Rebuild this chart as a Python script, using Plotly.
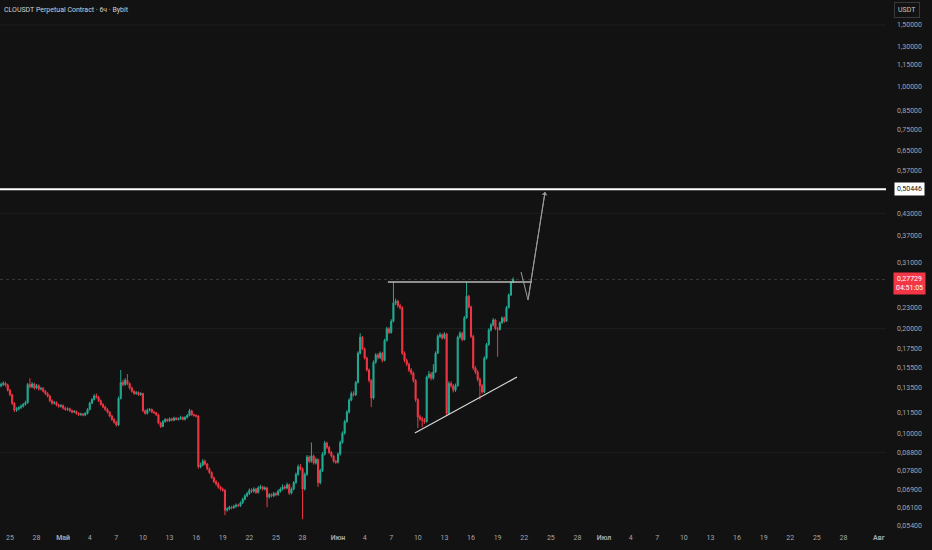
import math
import pandas as pd
import plotly.graph_objects as go

TITLE = "CLOUSDT Perpetual Contract · 6ч · Bybit"
START = "2025-04-24 00:00"

closes = [
    0.1380, 0.1392, 0.1376, 0.1330, 0.1290, 0.1220, 0.1166, 0.1175,
    0.1185, 0.1195, 0.1210, 0.1225, 0.1380, 0.1360, 0.1385, 0.1350,
    0.1370, 0.1340, 0.1345, 0.1320, 0.1300, 0.1280, 0.1240, 0.1220,
    0.1225, 0.1205, 0.1195, 0.1200, 0.1180, 0.1170, 0.1175, 0.1160,
    0.1150, 0.1155, 0.1140, 0.1130, 0.1135, 0.1128, 0.1140, 0.1170,
    0.1220, 0.1250, 0.1280, 0.1270, 0.1240, 0.1210, 0.1190, 0.1170,
    0.1150, 0.1120, 0.1095, 0.1075, 0.1056, 0.1260, 0.1400, 0.1380,
    0.1420, 0.1390, 0.1350, 0.1320, 0.1300, 0.1310, 0.1290, 0.1300,
    0.1160, 0.1140, 0.1165, 0.1170, 0.1150, 0.1145, 0.1130, 0.1070,
    0.1045, 0.1080, 0.1095, 0.1085, 0.1100, 0.1090, 0.1105, 0.1095,
    0.1100, 0.1110, 0.1095, 0.1110, 0.1125, 0.1160, 0.1130, 0.1125,
    0.1120, 0.0800, 0.0810, 0.0830, 0.0815, 0.0790, 0.0770, 0.0745,
    0.0725, 0.0715, 0.0700, 0.0690, 0.0685, 0.0600, 0.0605, 0.0612,
    0.0610, 0.0615, 0.0620, 0.0618, 0.0630, 0.0645, 0.0660, 0.0670,
    0.0685, 0.0680, 0.0690, 0.0675, 0.0695, 0.0700, 0.0690, 0.0695,
    0.0655, 0.0665, 0.0660, 0.0670, 0.0665, 0.0680, 0.0690, 0.0700,
    0.0695, 0.0710, 0.0672, 0.0690, 0.0720, 0.0760, 0.0800, 0.0790,
    0.0690, 0.0760, 0.0853, 0.0830, 0.0860, 0.0820, 0.0840, 0.0720,
    0.0780, 0.0870, 0.0937, 0.0910, 0.0880, 0.0860, 0.0830, 0.0825,
    0.0870, 0.0940, 0.1000, 0.1080, 0.1150, 0.1246, 0.1300, 0.1290,
    0.1400, 0.1700, 0.1890, 0.1750, 0.1645, 0.1520, 0.1420, 0.1262,
    0.1600, 0.1680, 0.1650, 0.1700, 0.1620, 0.1850, 0.2000, 0.1950,
    0.2100, 0.2370, 0.2400, 0.2330, 0.2300, 0.1700, 0.1620, 0.1580,
    0.1520, 0.1490, 0.1420, 0.1250, 0.1113, 0.1100, 0.1090, 0.1080,
    0.1450, 0.1480, 0.1440, 0.1500, 0.1700, 0.1900, 0.1920, 0.1880,
    0.1930, 0.1140, 0.1390, 0.1370, 0.1330, 0.1370, 0.1890, 0.1940,
    0.1860, 0.2150, 0.2480, 0.2310, 0.1900, 0.1540, 0.1500, 0.1430,
    0.1370, 0.1314, 0.1645, 0.1800, 0.1982, 0.2050, 0.2118, 0.2000,
    0.1990, 0.2080, 0.2147, 0.2100, 0.2300, 0.2500, 0.2720, 0.2773,
]

opens = [
    0.1370, 0.1380, 0.1392, 0.1376, 0.1330, 0.1290, 0.1220, 0.1166,
    0.1175, 0.1185, 0.1195, 0.1210, 0.1225, 0.1380, 0.1360, 0.1385,
    0.1350, 0.1370, 0.1340, 0.1345, 0.1320, 0.1300, 0.1280, 0.1240,
    0.1220, 0.1225, 0.1205, 0.1195, 0.1200, 0.1180, 0.1170, 0.1175,
    0.1160, 0.1150, 0.1155, 0.1140, 0.1130, 0.1135, 0.1128, 0.1140,
    0.1170, 0.1220, 0.1250, 0.1280, 0.1270, 0.1240, 0.1210, 0.1190,
    0.1170, 0.1150, 0.1120, 0.1095, 0.1075, 0.1056, 0.1260, 0.1400,
    0.1380, 0.1420, 0.1390, 0.1350, 0.1320, 0.1300, 0.1310, 0.1290,
    0.1300, 0.1160, 0.1140, 0.1165, 0.1170, 0.1150, 0.1145, 0.1130,
    0.1070, 0.1045, 0.1080, 0.1095, 0.1085, 0.1100, 0.1090, 0.1105,
    0.1095, 0.1100, 0.1110, 0.1095, 0.1110, 0.1125, 0.1160, 0.1130,
    0.1125, 0.1120, 0.0800, 0.0810, 0.0830, 0.0815, 0.0790, 0.0770,
    0.0745, 0.0725, 0.0715, 0.0700, 0.0690, 0.0685, 0.0600, 0.0605,
    0.0612, 0.0610, 0.0615, 0.0620, 0.0618, 0.0630, 0.0645, 0.0660,
    0.0670, 0.0685, 0.0680, 0.0690, 0.0675, 0.0695, 0.0700, 0.0690,
    0.0695, 0.0655, 0.0665, 0.0660, 0.0670, 0.0665, 0.0680, 0.0690,
    0.0700, 0.0695, 0.0710, 0.0672, 0.0690, 0.0720, 0.0760, 0.0800,
    0.0790, 0.0690, 0.0760, 0.0853, 0.0830, 0.0860, 0.0820, 0.0840,
    0.0720, 0.0780, 0.0870, 0.0937, 0.0910, 0.0880, 0.0860, 0.0830,
    0.0825, 0.0870, 0.0940, 0.1000, 0.1080, 0.1150, 0.1246, 0.1300,
    0.1290, 0.1400, 0.1700, 0.1890, 0.1750, 0.1645, 0.1520, 0.1420,
    0.1262, 0.1600, 0.1680, 0.1650, 0.1700, 0.1620, 0.1850, 0.2000,
    0.1950, 0.2100, 0.2370, 0.2400, 0.2330, 0.2300, 0.1700, 0.1620,
    0.1580, 0.1520, 0.1490, 0.1420, 0.1250, 0.1113, 0.1100, 0.1090,
    0.1080, 0.1450, 0.1480, 0.1440, 0.1500, 0.1700, 0.1900, 0.1920,
    0.1880, 0.1930, 0.1140, 0.1390, 0.1370, 0.1330, 0.1370, 0.1890,
    0.1940, 0.1860, 0.2150, 0.2480, 0.2310, 0.1900, 0.1540, 0.1500,
    0.1430, 0.1370, 0.1314, 0.1645, 0.1800, 0.1982, 0.2050, 0.2118,
    0.2000, 0.1990, 0.2080, 0.2147, 0.2100, 0.2300, 0.2500, 0.2720,
]

highs = [
    0.1398, 0.1410, 0.1405, 0.1388, 0.1342, 0.1298, 0.1228, 0.1188,
    0.1196, 0.1210, 0.1222, 0.1240, 0.1395, 0.1440, 0.1402, 0.1395,
    0.1385, 0.1382, 0.1360, 0.1358, 0.1332, 0.1312, 0.1290, 0.1252,
    0.1238, 0.1235, 0.1216, 0.1212, 0.1210, 0.1192, 0.1186, 0.1184,
    0.1170, 0.1166, 0.1163, 0.1150, 0.1145, 0.1143, 0.1150, 0.1180,
    0.1232, 0.1262, 0.1295, 0.1300, 0.1280, 0.1250, 0.1220, 0.1200,
    0.1180, 0.1158, 0.1130, 0.1105, 0.1085, 0.1275, 0.1520, 0.1425,
    0.1440, 0.1480, 0.1400, 0.1362, 0.1330, 0.1322, 0.1318, 0.1312,
    0.1308, 0.1170, 0.1178, 0.1182, 0.1178, 0.1158, 0.1152, 0.1138,
    0.1078, 0.1090, 0.1105, 0.1102, 0.1110, 0.1108, 0.1115, 0.1112,
    0.1110, 0.1122, 0.1118, 0.1120, 0.1135, 0.1175, 0.1168, 0.1138,
    0.1132, 0.1126, 0.0822, 0.0842, 0.0838, 0.0820, 0.0796, 0.0776,
    0.0750, 0.0732, 0.0722, 0.0706, 0.0697, 0.0690, 0.0612, 0.0618,
    0.0618, 0.0622, 0.0627, 0.0626, 0.0636, 0.0652, 0.0667, 0.0678,
    0.0693, 0.0694, 0.0698, 0.0695, 0.0704, 0.0710, 0.0706, 0.0703,
    0.0700, 0.0672, 0.0671, 0.0677, 0.0676, 0.0688, 0.0698, 0.0712,
    0.0708, 0.0720, 0.0715, 0.0698, 0.0728, 0.0770, 0.0812, 0.0815,
    0.0796, 0.0770, 0.0865, 0.0862, 0.0940, 0.0868, 0.0850, 0.0845,
    0.0790, 0.0882, 0.0950, 0.0945, 0.0918, 0.0888, 0.0866, 0.0838,
    0.0880, 0.0952, 0.1012, 0.1092, 0.1165, 0.1262, 0.1318, 0.1320,
    0.1415, 0.1720, 0.1940, 0.1905, 0.1765, 0.1660, 0.1535, 0.1430,
    0.1620, 0.1700, 0.1700, 0.1720, 0.1715, 0.1870, 0.2025, 0.2020,
    0.2130, 0.2727, 0.2440, 0.2420, 0.2360, 0.2320, 0.1720, 0.1640,
    0.1595, 0.1540, 0.1505, 0.1430, 0.1260, 0.1130, 0.1115, 0.1105,
    0.1465, 0.1510, 0.1500, 0.1580, 0.1720, 0.1925, 0.1950, 0.1940,
    0.1955, 0.1945, 0.1410, 0.1410, 0.1385, 0.1390, 0.1910, 0.1965,
    0.1960, 0.2175, 0.2727, 0.2500, 0.2330, 0.1920, 0.1560, 0.1520,
    0.1445, 0.1385, 0.1665, 0.1820, 0.2005, 0.2075, 0.2145, 0.2135,
    0.2020, 0.2100, 0.2170, 0.2165, 0.2325, 0.2525, 0.2745, 0.2810,
]

lows = [
    0.1355, 0.1368, 0.1362, 0.1318, 0.1278, 0.1205, 0.1150, 0.1152,
    0.1162, 0.1174, 0.1185, 0.1200, 0.1215, 0.1345, 0.1348, 0.1335,
    0.1338, 0.1325, 0.1328, 0.1310, 0.1288, 0.1268, 0.1228, 0.1208,
    0.1210, 0.1195, 0.1183, 0.1185, 0.1170, 0.1160, 0.1160, 0.1150,
    0.1140, 0.1142, 0.1130, 0.1120, 0.1122, 0.1118, 0.1120, 0.1132,
    0.1162, 0.1212, 0.1242, 0.1258, 0.1230, 0.1200, 0.1180, 0.1160,
    0.1140, 0.1110, 0.1085, 0.1065, 0.1045, 0.1050, 0.1250, 0.1365,
    0.1370, 0.1375, 0.1335, 0.1308, 0.1290, 0.1290, 0.1280, 0.1282,
    0.1148, 0.1130, 0.1132, 0.1155, 0.1142, 0.1135, 0.1120, 0.1060,
    0.1035, 0.1040, 0.1072, 0.1078, 0.1078, 0.1082, 0.1083, 0.1088,
    0.1088, 0.1092, 0.1088, 0.1088, 0.1102, 0.1118, 0.1122, 0.1115,
    0.1110, 0.0790, 0.0792, 0.0802, 0.0806, 0.0782, 0.0762, 0.0738,
    0.0718, 0.0706, 0.0692, 0.0683, 0.0678, 0.0580, 0.0594, 0.0600,
    0.0603, 0.0605, 0.0610, 0.0612, 0.0613, 0.0625, 0.0640, 0.0654,
    0.0664, 0.0672, 0.0674, 0.0668, 0.0670, 0.0688, 0.0683, 0.0684,
    0.0612, 0.0648, 0.0653, 0.0654, 0.0658, 0.0660, 0.0674, 0.0684,
    0.0688, 0.0689, 0.0664, 0.0666, 0.0684, 0.0714, 0.0754, 0.0780,
    0.0565, 0.0684, 0.0754, 0.0820, 0.0822, 0.0812, 0.0812, 0.0700,
    0.0712, 0.0772, 0.0862, 0.0900, 0.0870, 0.0850, 0.0820, 0.0815,
    0.0818, 0.0862, 0.0932, 0.0990, 0.1070, 0.1140, 0.1235, 0.1275,
    0.1280, 0.1390, 0.1685, 0.1735, 0.1630, 0.1505, 0.1400, 0.1189,
    0.1250, 0.1585, 0.1630, 0.1635, 0.1600, 0.1610, 0.1835, 0.1930,
    0.1935, 0.2085, 0.2340, 0.2300, 0.2270, 0.1680, 0.1600, 0.1560,
    0.1500, 0.1470, 0.1400, 0.1230, 0.1035, 0.1085, 0.1040, 0.1065,
    0.1072, 0.1435, 0.1420, 0.1425, 0.1490, 0.1690, 0.1880, 0.1860,
    0.1865, 0.1120, 0.1130, 0.1350, 0.1310, 0.1315, 0.1360, 0.1870,
    0.1840, 0.1850, 0.2135, 0.2290, 0.1880, 0.1520, 0.1480, 0.1410,
    0.1250, 0.1300, 0.1305, 0.1630, 0.1785, 0.1965, 0.2030, 0.1980,
    0.1660, 0.1975, 0.2065, 0.2080, 0.2090, 0.2285, 0.2485, 0.2705,
]

# Axis ticks
y_tick_vals = [1.5, 1.3, 1.15, 1.0, 0.85, 0.75, 0.65, 0.57, 0.43, 0.37, 0.31,
               0.23, 0.2, 0.175, 0.155, 0.135, 0.115, 0.1, 0.088, 0.078,
               0.069, 0.061, 0.054]
y_tick_text = ["1,50000", "1,30000", "1,15000", "1,00000", "0,85000", "0,75000",
               "0,65000", "0,57000", "0,43000", "0,37000", "0,31000", "0,23000",
               "0,20000", "0,17500", "0,15500", "0,13500", "0,11500", "0,10000",
               "0,08800", "0,07800", "0,06900", "0,06100", "0,05400"]

x_tick_dates = ["2025-04-25", "2025-04-28", "2025-05-01", "2025-05-04", "2025-05-07",
                "2025-05-10", "2025-05-13", "2025-05-16", "2025-05-19", "2025-05-22",
                "2025-05-25", "2025-05-28", "2025-06-01", "2025-06-04", "2025-06-07",
                "2025-06-10", "2025-06-13", "2025-06-16", "2025-06-19", "2025-06-22",
                "2025-06-25", "2025-06-28", "2025-07-01", "2025-07-04", "2025-07-07",
                "2025-07-10", "2025-07-13", "2025-07-16", "2025-07-19", "2025-07-22",
                "2025-07-25", "2025-07-28", "2025-08-01"]
x_tick_text = ["25", "28", "<b>Май</b>", "4", "7", "10", "13", "16", "19", "22", "25",
               "28", "<b>Июн</b>", "4", "7", "10", "13", "16", "19", "22", "25", "28",
               "<b>Июл</b>", "4", "7", "10", "13", "16", "19", "22", "25", "28",
               "<b>Авг</b>"]
x_range = ["2025-04-23 21:07", "2025-08-01 19:12"]
y_range_vals = [0.0533, 1.770]

# Drawings
target_level = 0.50446
target_text = "0,50446"
last_price = 0.27729
last_text = "0,27729<br>04:51:05"
grid_levels = [1.5, 0.43, 0.2, 0.088]
res_x = ["2025-06-06 15:00", "2025-06-22 21:00"]
res_y = [0.2727, 0.2727]
sup_x = ["2025-06-09 16:00", "2025-06-21 04:30"]
sup_y = [0.1001, 0.1451]
proj_x = ["2025-06-21 15:20", "2025-06-22 10:20", "2025-06-24 08:20"]
proj_y = [0.2914, 0.2418, 0.4953]

BG = "#121212"
GREEN = "#22ab94"
RED = "#f23645"
TXT = "#a3a6ad"
FONT = "Roboto"

times = pd.date_range(START, periods=len(closes), freq="6h")

fig = go.Figure()

for lv in grid_levels:
    fig.add_shape(type="line", xref="paper", x0=0, x1=1, yref="y", y0=lv, y1=lv,
                  line=dict(color="#1f1f1f", width=1), layer="below")

fig.add_trace(go.Candlestick(
    x=times, open=opens, high=highs, low=lows, close=closes,
    increasing=dict(line=dict(color=GREEN, width=1), fillcolor=GREEN),
    decreasing=dict(line=dict(color=RED, width=1), fillcolor=RED),
    whiskerwidth=0, hoverinfo="skip", showlegend=False,
))

# last price dotted line
fig.add_shape(type="line", xref="paper", x0=0, x1=1, yref="y", y0=last_price, y1=last_price,
              line=dict(color="rgba(150,150,150,0.3)", width=1, dash="dot"))
# target level
fig.add_shape(type="line", xref="paper", x0=0, x1=1, yref="y", y0=target_level, y1=target_level,
              line=dict(color="#ffffff", width=2))

fig.add_trace(go.Scatter(x=res_x, y=res_y, mode="lines",
                         line=dict(color="#b8b8b8", width=1.5), hoverinfo="skip", showlegend=False))
fig.add_trace(go.Scatter(x=sup_x, y=sup_y, mode="lines",
                         line=dict(color="#d8d8d8", width=1.2), hoverinfo="skip", showlegend=False))
fig.add_trace(go.Scatter(x=proj_x, y=proj_y, mode="lines",
                         line=dict(color="#9a9a9a", width=1), hoverinfo="skip", showlegend=False))
fig.add_annotation(x=proj_x[-1], y=math.log10(proj_y[-1]), ax=proj_x[-2], ay=math.log10(proj_y[-2]),
                   xref="x", yref="y", axref="x", ayref="y", text="", showarrow=True,
                   arrowhead=1, arrowsize=1, arrowwidth=1, arrowcolor="#9a9a9a")

# title
fig.add_annotation(xref="paper", yref="paper", x=0, y=1, xanchor="left", yanchor="top",
                   xshift=2, yshift=-4, text=TITLE, showarrow=False,
                   font=dict(family=FONT, size=7, color="#d0d0d0"))
# USDT box
fig.add_annotation(xref="paper", yref="paper", x=1, y=1, xanchor="left", yanchor="top",
                   xshift=8, yshift=-2, text="USDT", showarrow=False,
                   font=dict(family=FONT, size=7, color="#c8c8c8"),
                   bordercolor="#3a3a3a", borderwidth=1, borderpad=3, bgcolor=BG)
# target label
fig.add_annotation(xref="paper", yref="y", x=1, y=math.log10(target_level), xanchor="left",
                   yanchor="middle", xshift=8, text=target_text, showarrow=False,
                   font=dict(family=FONT, size=7, color="#131313"),
                   bgcolor="#ffffff", borderpad=2)
# last price label
fig.add_annotation(xref="paper", yref="y", x=1, y=math.log10(last_price), xanchor="left",
                   yanchor="middle", xshift=7, yshift=-4, text=last_text, showarrow=False,
                   font=dict(family=FONT, size=7, color="#ffffff"),
                   bgcolor=RED, borderpad=2, align="center")

fig.update_layout(
    width=932, height=550,
    margin=dict(l=0, r=46, t=0, b=22),
    paper_bgcolor=BG, plot_bgcolor=BG,
    showlegend=False,
    font=dict(family=FONT, color=TXT),
    xaxis=dict(type="date", range=x_range, rangeslider=dict(visible=False),
               showgrid=False, zeroline=False, showline=False, ticks="",
               tickmode="array", tickvals=x_tick_dates, ticktext=x_tick_text,
               tickfont=dict(family=FONT, size=7, color=TXT), ticklabelstandoff=4,
               fixedrange=True),
    yaxis=dict(type="log", side="right",
               range=[math.log10(y_range_vals[0]), math.log10(y_range_vals[1])],
               showgrid=False, zeroline=False, showline=False, ticks="",
               tickmode="array", tickvals=y_tick_vals, ticktext=y_tick_text,
               tickfont=dict(family=FONT, size=7, color=TXT),
               ticklabelstandoff=10, fixedrange=True),
)

fig.write_html(
    "out.html",
    config={"displayModeBar": False, "staticPlot": True},
    post_script="document.body.style.margin='0';document.body.style.background='#121212';",
)
